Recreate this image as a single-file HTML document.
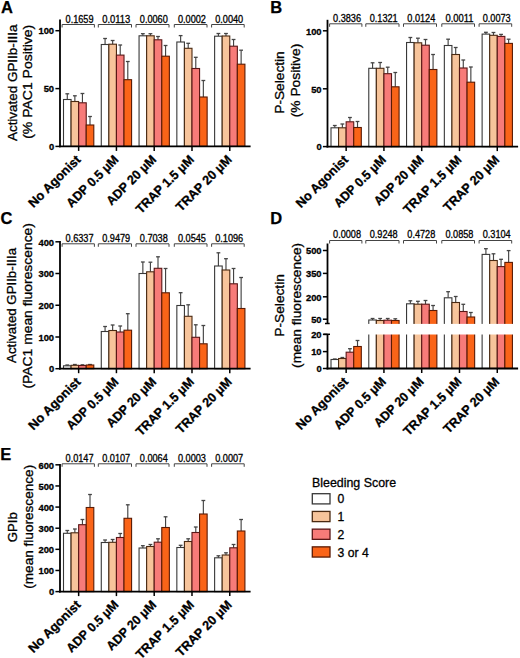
<!DOCTYPE html>
<html><head><meta charset="utf-8"><title>Figure</title>
<style>
html,body{margin:0;padding:0;background:#fff;}
body{width:520px;height:658px;overflow:hidden;}
svg{display:block;font-family:"Liberation Sans", sans-serif;}
</style></head>
<body>
<svg width="520" height="658" viewBox="0 0 520 658" font-family='"Liberation Sans", sans-serif'>
<rect width="520" height="658" fill="#fff"/>
<line x1="67.29" y1="99.5" x2="67.29" y2="93.8" stroke="#444" stroke-width="1.15"/>
<line x1="65.39" y1="93.8" x2="69.19" y2="93.8" stroke="#444" stroke-width="1.3"/>
<rect x="63.5" y="99.5" width="7.58" height="46.9" fill="#ffffff" stroke="#383838" stroke-width="1.1"/>
<line x1="74.86" y1="101.5" x2="74.86" y2="95.8" stroke="#444" stroke-width="1.15"/>
<line x1="72.96" y1="95.8" x2="76.76" y2="95.8" stroke="#444" stroke-width="1.3"/>
<rect x="71.08" y="101.5" width="7.58" height="44.9" fill="#f7c49b" stroke="#4a2a12" stroke-width="1.1"/>
<line x1="82.44" y1="102.8" x2="82.44" y2="93.5" stroke="#444" stroke-width="1.15"/>
<line x1="80.54" y1="93.5" x2="84.34" y2="93.5" stroke="#444" stroke-width="1.3"/>
<rect x="78.65" y="102.8" width="7.58" height="43.6" fill="#f77b79" stroke="#5a1616" stroke-width="1.1"/>
<line x1="90.01" y1="125" x2="90.01" y2="116.5" stroke="#444" stroke-width="1.15"/>
<line x1="88.11" y1="116.5" x2="91.91" y2="116.5" stroke="#444" stroke-width="1.3"/>
<rect x="86.22" y="125" width="7.58" height="21.4" fill="#fa6418" stroke="#5a1a04" stroke-width="1.1"/>
<line x1="105.07" y1="44.5" x2="105.07" y2="38.5" stroke="#444" stroke-width="1.15"/>
<line x1="103.17" y1="38.5" x2="106.97" y2="38.5" stroke="#444" stroke-width="1.3"/>
<rect x="101.28" y="44.5" width="7.58" height="101.9" fill="#ffffff" stroke="#383838" stroke-width="1.1"/>
<line x1="112.64" y1="44.2" x2="112.64" y2="40.5" stroke="#444" stroke-width="1.15"/>
<line x1="110.74" y1="40.5" x2="114.54" y2="40.5" stroke="#444" stroke-width="1.3"/>
<rect x="108.86" y="44.2" width="7.58" height="102.2" fill="#f7c49b" stroke="#4a2a12" stroke-width="1.1"/>
<line x1="120.22" y1="55.1" x2="120.22" y2="45" stroke="#444" stroke-width="1.15"/>
<line x1="118.32" y1="45" x2="122.12" y2="45" stroke="#444" stroke-width="1.3"/>
<rect x="116.43" y="55.1" width="7.58" height="91.3" fill="#f77b79" stroke="#5a1616" stroke-width="1.1"/>
<line x1="127.79" y1="79.7" x2="127.79" y2="61.5" stroke="#444" stroke-width="1.15"/>
<line x1="125.89" y1="61.5" x2="129.69" y2="61.5" stroke="#444" stroke-width="1.3"/>
<rect x="124" y="79.7" width="7.58" height="66.7" fill="#fa6418" stroke="#5a1a04" stroke-width="1.1"/>
<line x1="142.85" y1="35.8" x2="142.85" y2="33.7" stroke="#444" stroke-width="1.15"/>
<line x1="140.95" y1="33.7" x2="144.75" y2="33.7" stroke="#444" stroke-width="1.3"/>
<rect x="139.06" y="35.8" width="7.58" height="110.6" fill="#ffffff" stroke="#383838" stroke-width="1.1"/>
<line x1="150.42" y1="35.8" x2="150.42" y2="33.7" stroke="#444" stroke-width="1.15"/>
<line x1="148.52" y1="33.7" x2="152.32" y2="33.7" stroke="#444" stroke-width="1.3"/>
<rect x="146.63" y="35.8" width="7.58" height="110.6" fill="#f7c49b" stroke="#4a2a12" stroke-width="1.1"/>
<line x1="158" y1="39.8" x2="158" y2="36.5" stroke="#444" stroke-width="1.15"/>
<line x1="156.1" y1="36.5" x2="159.9" y2="36.5" stroke="#444" stroke-width="1.3"/>
<rect x="154.21" y="39.8" width="7.58" height="106.6" fill="#f77b79" stroke="#5a1616" stroke-width="1.1"/>
<line x1="165.57" y1="56.2" x2="165.57" y2="45.5" stroke="#444" stroke-width="1.15"/>
<line x1="163.67" y1="45.5" x2="167.47" y2="45.5" stroke="#444" stroke-width="1.3"/>
<rect x="161.78" y="56.2" width="7.58" height="90.2" fill="#fa6418" stroke="#5a1a04" stroke-width="1.1"/>
<line x1="180.63" y1="42" x2="180.63" y2="35.6" stroke="#444" stroke-width="1.15"/>
<line x1="178.73" y1="35.6" x2="182.53" y2="35.6" stroke="#444" stroke-width="1.3"/>
<rect x="176.84" y="42" width="7.58" height="104.4" fill="#ffffff" stroke="#383838" stroke-width="1.1"/>
<line x1="188.2" y1="48.3" x2="188.2" y2="43.3" stroke="#444" stroke-width="1.15"/>
<line x1="186.3" y1="43.3" x2="190.1" y2="43.3" stroke="#444" stroke-width="1.3"/>
<rect x="184.41" y="48.3" width="7.58" height="98.1" fill="#f7c49b" stroke="#4a2a12" stroke-width="1.1"/>
<line x1="195.78" y1="68.5" x2="195.78" y2="57.3" stroke="#444" stroke-width="1.15"/>
<line x1="193.88" y1="57.3" x2="197.68" y2="57.3" stroke="#444" stroke-width="1.3"/>
<rect x="191.99" y="68.5" width="7.58" height="77.9" fill="#f77b79" stroke="#5a1616" stroke-width="1.1"/>
<line x1="203.35" y1="97" x2="203.35" y2="80.5" stroke="#444" stroke-width="1.15"/>
<line x1="201.45" y1="80.5" x2="205.25" y2="80.5" stroke="#444" stroke-width="1.3"/>
<rect x="199.56" y="97" width="7.58" height="49.4" fill="#fa6418" stroke="#5a1a04" stroke-width="1.1"/>
<line x1="218.41" y1="36.2" x2="218.41" y2="33.5" stroke="#444" stroke-width="1.15"/>
<line x1="216.51" y1="33.5" x2="220.31" y2="33.5" stroke="#444" stroke-width="1.3"/>
<rect x="214.62" y="36.2" width="7.58" height="110.2" fill="#ffffff" stroke="#383838" stroke-width="1.1"/>
<line x1="225.98" y1="36" x2="225.98" y2="33.5" stroke="#444" stroke-width="1.15"/>
<line x1="224.08" y1="33.5" x2="227.88" y2="33.5" stroke="#444" stroke-width="1.3"/>
<rect x="222.19" y="36" width="7.58" height="110.4" fill="#f7c49b" stroke="#4a2a12" stroke-width="1.1"/>
<line x1="233.56" y1="46.2" x2="233.56" y2="39.5" stroke="#444" stroke-width="1.15"/>
<line x1="231.66" y1="39.5" x2="235.46" y2="39.5" stroke="#444" stroke-width="1.3"/>
<rect x="229.77" y="46.2" width="7.58" height="100.2" fill="#f77b79" stroke="#5a1616" stroke-width="1.1"/>
<line x1="241.13" y1="64.2" x2="241.13" y2="50.2" stroke="#444" stroke-width="1.15"/>
<line x1="239.23" y1="50.2" x2="243.03" y2="50.2" stroke="#444" stroke-width="1.3"/>
<rect x="237.34" y="64.2" width="7.58" height="82.2" fill="#fa6418" stroke="#5a1a04" stroke-width="1.1"/>
<line x1="59" y1="146.4" x2="250.6" y2="146.4" stroke="#000" stroke-width="1.8"/>
<line x1="78.65" y1="146.4" x2="78.65" y2="150.9" stroke="#000" stroke-width="1.5"/>
<text transform="translate(81.45,160.4) rotate(-45)" text-anchor="end" font-weight="bold" font-size="12.8" stroke="#000" stroke-width="0.3" textLength="67.8" lengthAdjust="spacingAndGlyphs">No Agonist</text>
<line x1="116.43" y1="146.4" x2="116.43" y2="150.9" stroke="#000" stroke-width="1.5"/>
<text transform="translate(119.23,160.4) rotate(-45)" text-anchor="end" font-weight="bold" font-size="12.8" stroke="#000" stroke-width="0.3" textLength="67.5" lengthAdjust="spacingAndGlyphs">ADP 0.5 μM</text>
<line x1="154.21" y1="146.4" x2="154.21" y2="150.9" stroke="#000" stroke-width="1.5"/>
<text transform="translate(157.01,160.4) rotate(-45)" text-anchor="end" font-weight="bold" font-size="12.8" stroke="#000" stroke-width="0.3" textLength="64.5" lengthAdjust="spacingAndGlyphs">ADP 20 μM</text>
<line x1="191.99" y1="146.4" x2="191.99" y2="150.9" stroke="#000" stroke-width="1.5"/>
<text transform="translate(194.79,160.4) rotate(-45)" text-anchor="end" font-weight="bold" font-size="12.8" stroke="#000" stroke-width="0.3" textLength="76.2" lengthAdjust="spacingAndGlyphs">TRAP 1.5 μM</text>
<line x1="229.77" y1="146.4" x2="229.77" y2="150.9" stroke="#000" stroke-width="1.5"/>
<text transform="translate(232.57,160.4) rotate(-45)" text-anchor="end" font-weight="bold" font-size="12.8" stroke="#000" stroke-width="0.3" textLength="72.9" lengthAdjust="spacingAndGlyphs">TRAP 20 μM</text>
<line x1="60" y1="19.5" x2="60" y2="147.3" stroke="#000" stroke-width="1.8"/>
<line x1="55.4" y1="30.7" x2="60" y2="30.7" stroke="#000" stroke-width="1.5"/>
<text x="54.1" y="34.4" text-anchor="end" font-weight="bold" font-size="9.4" stroke="#000" stroke-width="0.3">100</text>
<line x1="55.4" y1="88.6" x2="60" y2="88.6" stroke="#000" stroke-width="1.5"/>
<text x="54.1" y="92.3" text-anchor="end" font-weight="bold" font-size="9.4" stroke="#000" stroke-width="0.3">50</text>
<line x1="55.4" y1="146.4" x2="60" y2="146.4" stroke="#000" stroke-width="1.5"/>
<text x="54.1" y="150.1" text-anchor="end" font-weight="bold" font-size="9.4" stroke="#000" stroke-width="0.3">0</text>
<path d="M62.1,27.5 L62.1,24.5 L94.4,24.5 L94.4,27.5" fill="none" stroke="#444" stroke-width="1"/>
<text x="65.55" y="22.5" font-size="10.0" stroke="#000" stroke-width="0.3" textLength="28" lengthAdjust="spacingAndGlyphs">0.1659</text>
<path d="M98.3,27.5 L98.3,24.5 L131.5,24.5 L131.5,27.5" fill="none" stroke="#444" stroke-width="1"/>
<text x="102.2" y="22.5" font-size="10.0" stroke="#000" stroke-width="0.3" textLength="28" lengthAdjust="spacingAndGlyphs">0.0113</text>
<path d="M136,27.5 L136,24.5 L169,24.5 L169,27.5" fill="none" stroke="#444" stroke-width="1"/>
<text x="139.8" y="22.5" font-size="10.0" stroke="#000" stroke-width="0.3" textLength="28" lengthAdjust="spacingAndGlyphs">0.0060</text>
<path d="M174.3,27.5 L174.3,24.5 L207,24.5 L207,27.5" fill="none" stroke="#444" stroke-width="1"/>
<text x="177.95" y="22.5" font-size="10.0" stroke="#000" stroke-width="0.3" textLength="28" lengthAdjust="spacingAndGlyphs">0.0002</text>
<path d="M211.6,27.5 L211.6,24.5 L244.2,24.5 L244.2,27.5" fill="none" stroke="#444" stroke-width="1"/>
<text x="215.2" y="22.5" font-size="10.0" stroke="#000" stroke-width="0.3" textLength="28" lengthAdjust="spacingAndGlyphs">0.0040</text>
<text x="1" y="13.2" font-weight="bold" font-size="16.5" stroke="#000" stroke-width="0.25">A</text>
<text transform="translate(16.7,82.8) rotate(-90)" text-anchor="middle" font-size="13.5" stroke="#000" stroke-width="0.3" textLength="116.5" lengthAdjust="spacingAndGlyphs">Activated GPIIb-IIIa</text>
<text transform="translate(32.2,81.8) rotate(-90)" text-anchor="middle" font-size="13.5" stroke="#000" stroke-width="0.3" textLength="114" lengthAdjust="spacingAndGlyphs">(% PAC1 Positive)</text>
<line x1="334.79" y1="127.8" x2="334.79" y2="125.5" stroke="#444" stroke-width="1.15"/>
<line x1="332.89" y1="125.5" x2="336.69" y2="125.5" stroke="#444" stroke-width="1.3"/>
<rect x="331" y="127.8" width="7.58" height="18.8" fill="#ffffff" stroke="#383838" stroke-width="1.1"/>
<line x1="342.36" y1="127.8" x2="342.36" y2="124" stroke="#444" stroke-width="1.15"/>
<line x1="340.46" y1="124" x2="344.26" y2="124" stroke="#444" stroke-width="1.3"/>
<rect x="338.57" y="127.8" width="7.58" height="18.8" fill="#f7c49b" stroke="#4a2a12" stroke-width="1.1"/>
<line x1="349.94" y1="121.8" x2="349.94" y2="117.5" stroke="#444" stroke-width="1.15"/>
<line x1="348.04" y1="117.5" x2="351.84" y2="117.5" stroke="#444" stroke-width="1.3"/>
<rect x="346.15" y="121.8" width="7.58" height="24.8" fill="#f77b79" stroke="#5a1616" stroke-width="1.1"/>
<line x1="357.51" y1="127.5" x2="357.51" y2="121.5" stroke="#444" stroke-width="1.15"/>
<line x1="355.61" y1="121.5" x2="359.41" y2="121.5" stroke="#444" stroke-width="1.3"/>
<rect x="353.73" y="127.5" width="7.58" height="19.1" fill="#fa6418" stroke="#5a1a04" stroke-width="1.1"/>
<line x1="372.57" y1="68.3" x2="372.57" y2="62.8" stroke="#444" stroke-width="1.15"/>
<line x1="370.67" y1="62.8" x2="374.47" y2="62.8" stroke="#444" stroke-width="1.3"/>
<rect x="368.78" y="68.3" width="7.58" height="78.3" fill="#ffffff" stroke="#383838" stroke-width="1.1"/>
<line x1="380.14" y1="68.3" x2="380.14" y2="62.5" stroke="#444" stroke-width="1.15"/>
<line x1="378.24" y1="62.5" x2="382.04" y2="62.5" stroke="#444" stroke-width="1.3"/>
<rect x="376.35" y="68.3" width="7.58" height="78.3" fill="#f7c49b" stroke="#4a2a12" stroke-width="1.1"/>
<line x1="387.72" y1="73.7" x2="387.72" y2="67.2" stroke="#444" stroke-width="1.15"/>
<line x1="385.82" y1="67.2" x2="389.62" y2="67.2" stroke="#444" stroke-width="1.3"/>
<rect x="383.93" y="73.7" width="7.58" height="72.9" fill="#f77b79" stroke="#5a1616" stroke-width="1.1"/>
<line x1="395.29" y1="86.8" x2="395.29" y2="72.5" stroke="#444" stroke-width="1.15"/>
<line x1="393.39" y1="72.5" x2="397.19" y2="72.5" stroke="#444" stroke-width="1.3"/>
<rect x="391.5" y="86.8" width="7.58" height="59.8" fill="#fa6418" stroke="#5a1a04" stroke-width="1.1"/>
<line x1="410.35" y1="42.5" x2="410.35" y2="37.5" stroke="#444" stroke-width="1.15"/>
<line x1="408.45" y1="37.5" x2="412.25" y2="37.5" stroke="#444" stroke-width="1.3"/>
<rect x="406.56" y="42.5" width="7.58" height="104.1" fill="#ffffff" stroke="#383838" stroke-width="1.1"/>
<line x1="417.92" y1="42.8" x2="417.92" y2="38.2" stroke="#444" stroke-width="1.15"/>
<line x1="416.02" y1="38.2" x2="419.82" y2="38.2" stroke="#444" stroke-width="1.3"/>
<rect x="414.13" y="42.8" width="7.58" height="103.8" fill="#f7c49b" stroke="#4a2a12" stroke-width="1.1"/>
<line x1="425.5" y1="45.2" x2="425.5" y2="39.5" stroke="#444" stroke-width="1.15"/>
<line x1="423.6" y1="39.5" x2="427.4" y2="39.5" stroke="#444" stroke-width="1.3"/>
<rect x="421.71" y="45.2" width="7.58" height="101.4" fill="#f77b79" stroke="#5a1616" stroke-width="1.1"/>
<line x1="433.07" y1="69.5" x2="433.07" y2="54.5" stroke="#444" stroke-width="1.15"/>
<line x1="431.17" y1="54.5" x2="434.97" y2="54.5" stroke="#444" stroke-width="1.3"/>
<rect x="429.29" y="69.5" width="7.58" height="77.1" fill="#fa6418" stroke="#5a1a04" stroke-width="1.1"/>
<line x1="448.13" y1="45.5" x2="448.13" y2="39.2" stroke="#444" stroke-width="1.15"/>
<line x1="446.23" y1="39.2" x2="450.03" y2="39.2" stroke="#444" stroke-width="1.3"/>
<rect x="444.34" y="45.5" width="7.58" height="101.1" fill="#ffffff" stroke="#383838" stroke-width="1.1"/>
<line x1="455.7" y1="54.5" x2="455.7" y2="47.5" stroke="#444" stroke-width="1.15"/>
<line x1="453.8" y1="47.5" x2="457.6" y2="47.5" stroke="#444" stroke-width="1.3"/>
<rect x="451.92" y="54.5" width="7.58" height="92.1" fill="#f7c49b" stroke="#4a2a12" stroke-width="1.1"/>
<line x1="463.28" y1="68" x2="463.28" y2="60" stroke="#444" stroke-width="1.15"/>
<line x1="461.38" y1="60" x2="465.18" y2="60" stroke="#444" stroke-width="1.3"/>
<rect x="459.49" y="68" width="7.58" height="78.6" fill="#f77b79" stroke="#5a1616" stroke-width="1.1"/>
<line x1="470.85" y1="82.2" x2="470.85" y2="67" stroke="#444" stroke-width="1.15"/>
<line x1="468.95" y1="67" x2="472.75" y2="67" stroke="#444" stroke-width="1.3"/>
<rect x="467.07" y="82.2" width="7.58" height="64.4" fill="#fa6418" stroke="#5a1a04" stroke-width="1.1"/>
<line x1="485.91" y1="34.1" x2="485.91" y2="32.3" stroke="#444" stroke-width="1.15"/>
<line x1="484.01" y1="32.3" x2="487.81" y2="32.3" stroke="#444" stroke-width="1.3"/>
<rect x="482.12" y="34.1" width="7.58" height="112.5" fill="#ffffff" stroke="#383838" stroke-width="1.1"/>
<line x1="493.48" y1="35.3" x2="493.48" y2="32.5" stroke="#444" stroke-width="1.15"/>
<line x1="491.58" y1="32.5" x2="495.38" y2="32.5" stroke="#444" stroke-width="1.3"/>
<rect x="489.69" y="35.3" width="7.58" height="111.3" fill="#f7c49b" stroke="#4a2a12" stroke-width="1.1"/>
<line x1="501.06" y1="36.4" x2="501.06" y2="34.4" stroke="#444" stroke-width="1.15"/>
<line x1="499.16" y1="34.4" x2="502.96" y2="34.4" stroke="#444" stroke-width="1.3"/>
<rect x="497.27" y="36.4" width="7.58" height="110.2" fill="#f77b79" stroke="#5a1616" stroke-width="1.1"/>
<line x1="508.63" y1="43.4" x2="508.63" y2="39.2" stroke="#444" stroke-width="1.15"/>
<line x1="506.73" y1="39.2" x2="510.53" y2="39.2" stroke="#444" stroke-width="1.3"/>
<rect x="504.85" y="43.4" width="7.58" height="103.2" fill="#fa6418" stroke="#5a1a04" stroke-width="1.1"/>
<line x1="326.5" y1="146.6" x2="518.1" y2="146.6" stroke="#000" stroke-width="1.8"/>
<line x1="346.15" y1="146.6" x2="346.15" y2="151.1" stroke="#000" stroke-width="1.5"/>
<text transform="translate(348.95,160.6) rotate(-45)" text-anchor="end" font-weight="bold" font-size="12.8" stroke="#000" stroke-width="0.3" textLength="67.8" lengthAdjust="spacingAndGlyphs">No Agonist</text>
<line x1="383.93" y1="146.6" x2="383.93" y2="151.1" stroke="#000" stroke-width="1.5"/>
<text transform="translate(386.73,160.6) rotate(-45)" text-anchor="end" font-weight="bold" font-size="12.8" stroke="#000" stroke-width="0.3" textLength="67.5" lengthAdjust="spacingAndGlyphs">ADP 0.5 μM</text>
<line x1="421.71" y1="146.6" x2="421.71" y2="151.1" stroke="#000" stroke-width="1.5"/>
<text transform="translate(424.51,160.6) rotate(-45)" text-anchor="end" font-weight="bold" font-size="12.8" stroke="#000" stroke-width="0.3" textLength="64.5" lengthAdjust="spacingAndGlyphs">ADP 20 μM</text>
<line x1="459.49" y1="146.6" x2="459.49" y2="151.1" stroke="#000" stroke-width="1.5"/>
<text transform="translate(462.29,160.6) rotate(-45)" text-anchor="end" font-weight="bold" font-size="12.8" stroke="#000" stroke-width="0.3" textLength="76.2" lengthAdjust="spacingAndGlyphs">TRAP 1.5 μM</text>
<line x1="497.27" y1="146.6" x2="497.27" y2="151.1" stroke="#000" stroke-width="1.5"/>
<text transform="translate(500.07,160.6) rotate(-45)" text-anchor="end" font-weight="bold" font-size="12.8" stroke="#000" stroke-width="0.3" textLength="72.9" lengthAdjust="spacingAndGlyphs">TRAP 20 μM</text>
<line x1="327.5" y1="19.8" x2="327.5" y2="147.5" stroke="#000" stroke-width="1.8"/>
<line x1="322.9" y1="30.8" x2="327.5" y2="30.8" stroke="#000" stroke-width="1.5"/>
<text x="321.6" y="34.5" text-anchor="end" font-weight="bold" font-size="9.4" stroke="#000" stroke-width="0.3">100</text>
<line x1="322.9" y1="88.8" x2="327.5" y2="88.8" stroke="#000" stroke-width="1.5"/>
<text x="321.6" y="92.5" text-anchor="end" font-weight="bold" font-size="9.4" stroke="#000" stroke-width="0.3">50</text>
<line x1="322.9" y1="146.6" x2="327.5" y2="146.6" stroke="#000" stroke-width="1.5"/>
<text x="321.6" y="150.3" text-anchor="end" font-weight="bold" font-size="9.4" stroke="#000" stroke-width="0.3">0</text>
<path d="M329.6,26.8 L329.6,23.8 L361.9,23.8 L361.9,26.8" fill="none" stroke="#444" stroke-width="1"/>
<text x="333.05" y="21.6" font-size="10.0" stroke="#000" stroke-width="0.3" textLength="28" lengthAdjust="spacingAndGlyphs">0.3836</text>
<path d="M365.8,26.8 L365.8,23.8 L399,23.8 L399,26.8" fill="none" stroke="#444" stroke-width="1"/>
<text x="369.7" y="21.6" font-size="10.0" stroke="#000" stroke-width="0.3" textLength="28" lengthAdjust="spacingAndGlyphs">0.1321</text>
<path d="M403.5,26.8 L403.5,23.8 L436.5,23.8 L436.5,26.8" fill="none" stroke="#444" stroke-width="1"/>
<text x="407.3" y="21.6" font-size="10.0" stroke="#000" stroke-width="0.3" textLength="28" lengthAdjust="spacingAndGlyphs">0.0124</text>
<path d="M441.8,26.8 L441.8,23.8 L474.5,23.8 L474.5,26.8" fill="none" stroke="#444" stroke-width="1"/>
<text x="445.45" y="21.6" font-size="10.0" stroke="#000" stroke-width="0.3" textLength="28" lengthAdjust="spacingAndGlyphs">0.0011</text>
<path d="M479.1,26.8 L479.1,23.8 L511.7,23.8 L511.7,26.8" fill="none" stroke="#444" stroke-width="1"/>
<text x="482.7" y="21.6" font-size="10.0" stroke="#000" stroke-width="0.3" textLength="28" lengthAdjust="spacingAndGlyphs">0.0073</text>
<text x="270.3" y="13.3" font-weight="bold" font-size="16.5" stroke="#000" stroke-width="0.25">B</text>
<text transform="translate(284.2,82.5) rotate(-90)" text-anchor="middle" font-size="13.5" stroke="#000" stroke-width="0.3" textLength="62.5" lengthAdjust="spacingAndGlyphs">P-Selectin</text>
<text transform="translate(300.3,80.5) rotate(-90)" text-anchor="middle" font-size="13.5" stroke="#000" stroke-width="0.3" textLength="73.5" lengthAdjust="spacingAndGlyphs">(% Positive)</text>
<line x1="67.29" y1="365.8" x2="67.29" y2="365" stroke="#444" stroke-width="1.15"/>
<line x1="65.39" y1="365" x2="69.19" y2="365" stroke="#444" stroke-width="1.3"/>
<rect x="63.5" y="365.8" width="7.58" height="2.9" fill="#ffffff" stroke="#383838" stroke-width="1.1"/>
<line x1="74.86" y1="365.3" x2="74.86" y2="364.5" stroke="#444" stroke-width="1.15"/>
<line x1="72.96" y1="364.5" x2="76.76" y2="364.5" stroke="#444" stroke-width="1.3"/>
<rect x="71.08" y="365.3" width="7.58" height="3.4" fill="#f7c49b" stroke="#4a2a12" stroke-width="1.1"/>
<line x1="82.44" y1="365.5" x2="82.44" y2="364.8" stroke="#444" stroke-width="1.15"/>
<line x1="80.54" y1="364.8" x2="84.34" y2="364.8" stroke="#444" stroke-width="1.3"/>
<rect x="78.65" y="365.5" width="7.58" height="3.2" fill="#f77b79" stroke="#5a1616" stroke-width="1.1"/>
<line x1="90.01" y1="365" x2="90.01" y2="364.5" stroke="#444" stroke-width="1.15"/>
<line x1="88.11" y1="364.5" x2="91.91" y2="364.5" stroke="#444" stroke-width="1.3"/>
<rect x="86.22" y="365" width="7.58" height="3.7" fill="#fa6418" stroke="#5a1a04" stroke-width="1.1"/>
<line x1="105.07" y1="331.5" x2="105.07" y2="326.5" stroke="#444" stroke-width="1.15"/>
<line x1="103.17" y1="326.5" x2="106.97" y2="326.5" stroke="#444" stroke-width="1.3"/>
<rect x="101.28" y="331.5" width="7.58" height="37.2" fill="#ffffff" stroke="#383838" stroke-width="1.1"/>
<line x1="112.64" y1="330.5" x2="112.64" y2="325" stroke="#444" stroke-width="1.15"/>
<line x1="110.74" y1="325" x2="114.54" y2="325" stroke="#444" stroke-width="1.3"/>
<rect x="108.86" y="330.5" width="7.58" height="38.2" fill="#f7c49b" stroke="#4a2a12" stroke-width="1.1"/>
<line x1="120.22" y1="332" x2="120.22" y2="326" stroke="#444" stroke-width="1.15"/>
<line x1="118.32" y1="326" x2="122.12" y2="326" stroke="#444" stroke-width="1.3"/>
<rect x="116.43" y="332" width="7.58" height="36.7" fill="#f77b79" stroke="#5a1616" stroke-width="1.1"/>
<line x1="127.79" y1="330.2" x2="127.79" y2="313.7" stroke="#444" stroke-width="1.15"/>
<line x1="125.89" y1="313.7" x2="129.69" y2="313.7" stroke="#444" stroke-width="1.3"/>
<rect x="124" y="330.2" width="7.58" height="38.5" fill="#fa6418" stroke="#5a1a04" stroke-width="1.1"/>
<line x1="142.85" y1="273.5" x2="142.85" y2="262" stroke="#444" stroke-width="1.15"/>
<line x1="140.95" y1="262" x2="144.75" y2="262" stroke="#444" stroke-width="1.3"/>
<rect x="139.06" y="273.5" width="7.58" height="95.2" fill="#ffffff" stroke="#383838" stroke-width="1.1"/>
<line x1="150.42" y1="271.8" x2="150.42" y2="262.2" stroke="#444" stroke-width="1.15"/>
<line x1="148.52" y1="262.2" x2="152.32" y2="262.2" stroke="#444" stroke-width="1.3"/>
<rect x="146.63" y="271.8" width="7.58" height="96.9" fill="#f7c49b" stroke="#4a2a12" stroke-width="1.1"/>
<line x1="158" y1="268.3" x2="158" y2="256.8" stroke="#444" stroke-width="1.15"/>
<line x1="156.1" y1="256.8" x2="159.9" y2="256.8" stroke="#444" stroke-width="1.3"/>
<rect x="154.21" y="268.3" width="7.58" height="100.4" fill="#f77b79" stroke="#5a1616" stroke-width="1.1"/>
<line x1="165.57" y1="292.8" x2="165.57" y2="268.5" stroke="#444" stroke-width="1.15"/>
<line x1="163.67" y1="268.5" x2="167.47" y2="268.5" stroke="#444" stroke-width="1.3"/>
<rect x="161.78" y="292.8" width="7.58" height="75.9" fill="#fa6418" stroke="#5a1a04" stroke-width="1.1"/>
<line x1="180.63" y1="305.5" x2="180.63" y2="292.7" stroke="#444" stroke-width="1.15"/>
<line x1="178.73" y1="292.7" x2="182.53" y2="292.7" stroke="#444" stroke-width="1.3"/>
<rect x="176.84" y="305.5" width="7.58" height="63.2" fill="#ffffff" stroke="#383838" stroke-width="1.1"/>
<line x1="188.2" y1="316.3" x2="188.2" y2="304.8" stroke="#444" stroke-width="1.15"/>
<line x1="186.3" y1="304.8" x2="190.1" y2="304.8" stroke="#444" stroke-width="1.3"/>
<rect x="184.41" y="316.3" width="7.58" height="52.4" fill="#f7c49b" stroke="#4a2a12" stroke-width="1.1"/>
<line x1="195.78" y1="337.3" x2="195.78" y2="324.8" stroke="#444" stroke-width="1.15"/>
<line x1="193.88" y1="324.8" x2="197.68" y2="324.8" stroke="#444" stroke-width="1.3"/>
<rect x="191.99" y="337.3" width="7.58" height="31.4" fill="#f77b79" stroke="#5a1616" stroke-width="1.1"/>
<line x1="203.35" y1="343.8" x2="203.35" y2="325.5" stroke="#444" stroke-width="1.15"/>
<line x1="201.45" y1="325.5" x2="205.25" y2="325.5" stroke="#444" stroke-width="1.3"/>
<rect x="199.56" y="343.8" width="7.58" height="24.9" fill="#fa6418" stroke="#5a1a04" stroke-width="1.1"/>
<line x1="218.41" y1="266" x2="218.41" y2="252.8" stroke="#444" stroke-width="1.15"/>
<line x1="216.51" y1="252.8" x2="220.31" y2="252.8" stroke="#444" stroke-width="1.3"/>
<rect x="214.62" y="266" width="7.58" height="102.7" fill="#ffffff" stroke="#383838" stroke-width="1.1"/>
<line x1="225.98" y1="270" x2="225.98" y2="258.7" stroke="#444" stroke-width="1.15"/>
<line x1="224.08" y1="258.7" x2="227.88" y2="258.7" stroke="#444" stroke-width="1.3"/>
<rect x="222.19" y="270" width="7.58" height="98.7" fill="#f7c49b" stroke="#4a2a12" stroke-width="1.1"/>
<line x1="233.56" y1="283.8" x2="233.56" y2="268.5" stroke="#444" stroke-width="1.15"/>
<line x1="231.66" y1="268.5" x2="235.46" y2="268.5" stroke="#444" stroke-width="1.3"/>
<rect x="229.77" y="283.8" width="7.58" height="84.9" fill="#f77b79" stroke="#5a1616" stroke-width="1.1"/>
<line x1="241.13" y1="308.5" x2="241.13" y2="277.5" stroke="#444" stroke-width="1.15"/>
<line x1="239.23" y1="277.5" x2="243.03" y2="277.5" stroke="#444" stroke-width="1.3"/>
<rect x="237.34" y="308.5" width="7.58" height="60.2" fill="#fa6418" stroke="#5a1a04" stroke-width="1.1"/>
<line x1="59" y1="368.7" x2="250.6" y2="368.7" stroke="#000" stroke-width="1.8"/>
<line x1="78.65" y1="368.7" x2="78.65" y2="373.2" stroke="#000" stroke-width="1.5"/>
<text transform="translate(81.45,382.7) rotate(-45)" text-anchor="end" font-weight="bold" font-size="12.8" stroke="#000" stroke-width="0.3" textLength="67.8" lengthAdjust="spacingAndGlyphs">No Agonist</text>
<line x1="116.43" y1="368.7" x2="116.43" y2="373.2" stroke="#000" stroke-width="1.5"/>
<text transform="translate(119.23,382.7) rotate(-45)" text-anchor="end" font-weight="bold" font-size="12.8" stroke="#000" stroke-width="0.3" textLength="67.5" lengthAdjust="spacingAndGlyphs">ADP 0.5 μM</text>
<line x1="154.21" y1="368.7" x2="154.21" y2="373.2" stroke="#000" stroke-width="1.5"/>
<text transform="translate(157.01,382.7) rotate(-45)" text-anchor="end" font-weight="bold" font-size="12.8" stroke="#000" stroke-width="0.3" textLength="64.5" lengthAdjust="spacingAndGlyphs">ADP 20 μM</text>
<line x1="191.99" y1="368.7" x2="191.99" y2="373.2" stroke="#000" stroke-width="1.5"/>
<text transform="translate(194.79,382.7) rotate(-45)" text-anchor="end" font-weight="bold" font-size="12.8" stroke="#000" stroke-width="0.3" textLength="76.2" lengthAdjust="spacingAndGlyphs">TRAP 1.5 μM</text>
<line x1="229.77" y1="368.7" x2="229.77" y2="373.2" stroke="#000" stroke-width="1.5"/>
<text transform="translate(232.57,382.7) rotate(-45)" text-anchor="end" font-weight="bold" font-size="12.8" stroke="#000" stroke-width="0.3" textLength="72.9" lengthAdjust="spacingAndGlyphs">TRAP 20 μM</text>
<line x1="60" y1="241" x2="60" y2="369.6" stroke="#000" stroke-width="1.8"/>
<line x1="55.4" y1="241.8" x2="60" y2="241.8" stroke="#000" stroke-width="1.5"/>
<text x="54.1" y="245.5" text-anchor="end" font-weight="bold" font-size="9.4" stroke="#000" stroke-width="0.3">400</text>
<line x1="55.4" y1="273.5" x2="60" y2="273.5" stroke="#000" stroke-width="1.5"/>
<text x="54.1" y="277.2" text-anchor="end" font-weight="bold" font-size="9.4" stroke="#000" stroke-width="0.3">300</text>
<line x1="55.4" y1="305.25" x2="60" y2="305.25" stroke="#000" stroke-width="1.5"/>
<text x="54.1" y="308.95" text-anchor="end" font-weight="bold" font-size="9.4" stroke="#000" stroke-width="0.3">200</text>
<line x1="55.4" y1="337" x2="60" y2="337" stroke="#000" stroke-width="1.5"/>
<text x="54.1" y="340.7" text-anchor="end" font-weight="bold" font-size="9.4" stroke="#000" stroke-width="0.3">100</text>
<line x1="55.4" y1="368.7" x2="60" y2="368.7" stroke="#000" stroke-width="1.5"/>
<text x="54.1" y="372.4" text-anchor="end" font-weight="bold" font-size="9.4" stroke="#000" stroke-width="0.3">0</text>
<path d="M62.1,246.8 L62.1,243.8 L94.4,243.8 L94.4,246.8" fill="none" stroke="#444" stroke-width="1"/>
<text x="65.55" y="241.5" font-size="10.0" stroke="#000" stroke-width="0.3" textLength="28" lengthAdjust="spacingAndGlyphs">0.6337</text>
<path d="M98.3,246.8 L98.3,243.8 L131.5,243.8 L131.5,246.8" fill="none" stroke="#444" stroke-width="1"/>
<text x="102.2" y="241.5" font-size="10.0" stroke="#000" stroke-width="0.3" textLength="28" lengthAdjust="spacingAndGlyphs">0.9479</text>
<path d="M136,246.8 L136,243.8 L169,243.8 L169,246.8" fill="none" stroke="#444" stroke-width="1"/>
<text x="139.8" y="241.5" font-size="10.0" stroke="#000" stroke-width="0.3" textLength="28" lengthAdjust="spacingAndGlyphs">0.7038</text>
<path d="M174.3,246.8 L174.3,243.8 L207,243.8 L207,246.8" fill="none" stroke="#444" stroke-width="1"/>
<text x="177.95" y="241.5" font-size="10.0" stroke="#000" stroke-width="0.3" textLength="28" lengthAdjust="spacingAndGlyphs">0.0545</text>
<path d="M211.6,246.8 L211.6,243.8 L244.2,243.8 L244.2,246.8" fill="none" stroke="#444" stroke-width="1"/>
<text x="215.2" y="241.5" font-size="10.0" stroke="#000" stroke-width="0.3" textLength="28" lengthAdjust="spacingAndGlyphs">0.1096</text>
<text x="0.5" y="224.2" font-weight="bold" font-size="16.5" stroke="#000" stroke-width="0.25">C</text>
<text transform="translate(16.4,305.4) rotate(-90)" text-anchor="middle" font-size="13.5" stroke="#000" stroke-width="0.3" textLength="115" lengthAdjust="spacingAndGlyphs">Activated GPIIb-IIIa</text>
<text transform="translate(32.4,305.8) rotate(-90)" text-anchor="middle" font-size="13.5" stroke="#000" stroke-width="0.3" textLength="165.5" lengthAdjust="spacingAndGlyphs">(PAC1 mean fluorescence)</text>
<line x1="67.29" y1="533.3" x2="67.29" y2="530.5" stroke="#444" stroke-width="1.15"/>
<line x1="65.39" y1="530.5" x2="69.19" y2="530.5" stroke="#444" stroke-width="1.3"/>
<rect x="63.5" y="533.3" width="7.58" height="58.3" fill="#ffffff" stroke="#383838" stroke-width="1.1"/>
<line x1="74.86" y1="532.8" x2="74.86" y2="529" stroke="#444" stroke-width="1.15"/>
<line x1="72.96" y1="529" x2="76.76" y2="529" stroke="#444" stroke-width="1.3"/>
<rect x="71.08" y="532.8" width="7.58" height="58.8" fill="#f7c49b" stroke="#4a2a12" stroke-width="1.1"/>
<line x1="82.44" y1="524.7" x2="82.44" y2="519.5" stroke="#444" stroke-width="1.15"/>
<line x1="80.54" y1="519.5" x2="84.34" y2="519.5" stroke="#444" stroke-width="1.3"/>
<rect x="78.65" y="524.7" width="7.58" height="66.9" fill="#f77b79" stroke="#5a1616" stroke-width="1.1"/>
<line x1="90.01" y1="507.5" x2="90.01" y2="494.5" stroke="#444" stroke-width="1.15"/>
<line x1="88.11" y1="494.5" x2="91.91" y2="494.5" stroke="#444" stroke-width="1.3"/>
<rect x="86.22" y="507.5" width="7.58" height="84.1" fill="#fa6418" stroke="#5a1a04" stroke-width="1.1"/>
<line x1="105.07" y1="542.5" x2="105.07" y2="540" stroke="#444" stroke-width="1.15"/>
<line x1="103.17" y1="540" x2="106.97" y2="540" stroke="#444" stroke-width="1.3"/>
<rect x="101.28" y="542.5" width="7.58" height="49.1" fill="#ffffff" stroke="#383838" stroke-width="1.1"/>
<line x1="112.64" y1="542.3" x2="112.64" y2="539.5" stroke="#444" stroke-width="1.15"/>
<line x1="110.74" y1="539.5" x2="114.54" y2="539.5" stroke="#444" stroke-width="1.3"/>
<rect x="108.86" y="542.3" width="7.58" height="49.3" fill="#f7c49b" stroke="#4a2a12" stroke-width="1.1"/>
<line x1="120.22" y1="537.5" x2="120.22" y2="533.5" stroke="#444" stroke-width="1.15"/>
<line x1="118.32" y1="533.5" x2="122.12" y2="533.5" stroke="#444" stroke-width="1.3"/>
<rect x="116.43" y="537.5" width="7.58" height="54.1" fill="#f77b79" stroke="#5a1616" stroke-width="1.1"/>
<line x1="127.79" y1="518.3" x2="127.79" y2="504.8" stroke="#444" stroke-width="1.15"/>
<line x1="125.89" y1="504.8" x2="129.69" y2="504.8" stroke="#444" stroke-width="1.3"/>
<rect x="124" y="518.3" width="7.58" height="73.3" fill="#fa6418" stroke="#5a1a04" stroke-width="1.1"/>
<line x1="142.85" y1="548" x2="142.85" y2="545.7" stroke="#444" stroke-width="1.15"/>
<line x1="140.95" y1="545.7" x2="144.75" y2="545.7" stroke="#444" stroke-width="1.3"/>
<rect x="139.06" y="548" width="7.58" height="43.6" fill="#ffffff" stroke="#383838" stroke-width="1.1"/>
<line x1="150.42" y1="546.5" x2="150.42" y2="544.5" stroke="#444" stroke-width="1.15"/>
<line x1="148.52" y1="544.5" x2="152.32" y2="544.5" stroke="#444" stroke-width="1.3"/>
<rect x="146.63" y="546.5" width="7.58" height="45.1" fill="#f7c49b" stroke="#4a2a12" stroke-width="1.1"/>
<line x1="158" y1="542.2" x2="158" y2="538.8" stroke="#444" stroke-width="1.15"/>
<line x1="156.1" y1="538.8" x2="159.9" y2="538.8" stroke="#444" stroke-width="1.3"/>
<rect x="154.21" y="542.2" width="7.58" height="49.4" fill="#f77b79" stroke="#5a1616" stroke-width="1.1"/>
<line x1="165.57" y1="527.5" x2="165.57" y2="516.8" stroke="#444" stroke-width="1.15"/>
<line x1="163.67" y1="516.8" x2="167.47" y2="516.8" stroke="#444" stroke-width="1.3"/>
<rect x="161.78" y="527.5" width="7.58" height="64.1" fill="#fa6418" stroke="#5a1a04" stroke-width="1.1"/>
<line x1="180.63" y1="547.5" x2="180.63" y2="545.3" stroke="#444" stroke-width="1.15"/>
<line x1="178.73" y1="545.3" x2="182.53" y2="545.3" stroke="#444" stroke-width="1.3"/>
<rect x="176.84" y="547.5" width="7.58" height="44.1" fill="#ffffff" stroke="#383838" stroke-width="1.1"/>
<line x1="188.2" y1="541.5" x2="188.2" y2="538.8" stroke="#444" stroke-width="1.15"/>
<line x1="186.3" y1="538.8" x2="190.1" y2="538.8" stroke="#444" stroke-width="1.3"/>
<rect x="184.41" y="541.5" width="7.58" height="50.1" fill="#f7c49b" stroke="#4a2a12" stroke-width="1.1"/>
<line x1="195.78" y1="532.5" x2="195.78" y2="527" stroke="#444" stroke-width="1.15"/>
<line x1="193.88" y1="527" x2="197.68" y2="527" stroke="#444" stroke-width="1.3"/>
<rect x="191.99" y="532.5" width="7.58" height="59.1" fill="#f77b79" stroke="#5a1616" stroke-width="1.1"/>
<line x1="203.35" y1="514" x2="203.35" y2="500.5" stroke="#444" stroke-width="1.15"/>
<line x1="201.45" y1="500.5" x2="205.25" y2="500.5" stroke="#444" stroke-width="1.3"/>
<rect x="199.56" y="514" width="7.58" height="77.6" fill="#fa6418" stroke="#5a1a04" stroke-width="1.1"/>
<line x1="218.41" y1="557.8" x2="218.41" y2="555.8" stroke="#444" stroke-width="1.15"/>
<line x1="216.51" y1="555.8" x2="220.31" y2="555.8" stroke="#444" stroke-width="1.3"/>
<rect x="214.62" y="557.8" width="7.58" height="33.8" fill="#ffffff" stroke="#383838" stroke-width="1.1"/>
<line x1="225.98" y1="555" x2="225.98" y2="552.8" stroke="#444" stroke-width="1.15"/>
<line x1="224.08" y1="552.8" x2="227.88" y2="552.8" stroke="#444" stroke-width="1.3"/>
<rect x="222.19" y="555" width="7.58" height="36.6" fill="#f7c49b" stroke="#4a2a12" stroke-width="1.1"/>
<line x1="233.56" y1="547.8" x2="233.56" y2="544.5" stroke="#444" stroke-width="1.15"/>
<line x1="231.66" y1="544.5" x2="235.46" y2="544.5" stroke="#444" stroke-width="1.3"/>
<rect x="229.77" y="547.8" width="7.58" height="43.8" fill="#f77b79" stroke="#5a1616" stroke-width="1.1"/>
<line x1="241.13" y1="531" x2="241.13" y2="519.5" stroke="#444" stroke-width="1.15"/>
<line x1="239.23" y1="519.5" x2="243.03" y2="519.5" stroke="#444" stroke-width="1.3"/>
<rect x="237.34" y="531" width="7.58" height="60.6" fill="#fa6418" stroke="#5a1a04" stroke-width="1.1"/>
<line x1="59" y1="591.6" x2="250.6" y2="591.6" stroke="#000" stroke-width="1.8"/>
<line x1="78.65" y1="591.6" x2="78.65" y2="596.1" stroke="#000" stroke-width="1.5"/>
<text transform="translate(81.45,605.6) rotate(-45)" text-anchor="end" font-weight="bold" font-size="12.8" stroke="#000" stroke-width="0.3" textLength="67.8" lengthAdjust="spacingAndGlyphs">No Agonist</text>
<line x1="116.43" y1="591.6" x2="116.43" y2="596.1" stroke="#000" stroke-width="1.5"/>
<text transform="translate(119.23,605.6) rotate(-45)" text-anchor="end" font-weight="bold" font-size="12.8" stroke="#000" stroke-width="0.3" textLength="67.5" lengthAdjust="spacingAndGlyphs">ADP 0.5 μM</text>
<line x1="154.21" y1="591.6" x2="154.21" y2="596.1" stroke="#000" stroke-width="1.5"/>
<text transform="translate(157.01,605.6) rotate(-45)" text-anchor="end" font-weight="bold" font-size="12.8" stroke="#000" stroke-width="0.3" textLength="64.5" lengthAdjust="spacingAndGlyphs">ADP 20 μM</text>
<line x1="191.99" y1="591.6" x2="191.99" y2="596.1" stroke="#000" stroke-width="1.5"/>
<text transform="translate(194.79,605.6) rotate(-45)" text-anchor="end" font-weight="bold" font-size="12.8" stroke="#000" stroke-width="0.3" textLength="76.2" lengthAdjust="spacingAndGlyphs">TRAP 1.5 μM</text>
<line x1="229.77" y1="591.6" x2="229.77" y2="596.1" stroke="#000" stroke-width="1.5"/>
<text transform="translate(232.57,605.6) rotate(-45)" text-anchor="end" font-weight="bold" font-size="12.8" stroke="#000" stroke-width="0.3" textLength="72.9" lengthAdjust="spacingAndGlyphs">TRAP 20 μM</text>
<line x1="60" y1="464" x2="60" y2="592.5" stroke="#000" stroke-width="1.8"/>
<line x1="55.4" y1="591.6" x2="60" y2="591.6" stroke="#000" stroke-width="1.5"/>
<text x="54.1" y="595.3" text-anchor="end" font-weight="bold" font-size="9.4" stroke="#000" stroke-width="0.3">0</text>
<line x1="55.4" y1="570.47" x2="60" y2="570.47" stroke="#000" stroke-width="1.5"/>
<text x="54.1" y="574.17" text-anchor="end" font-weight="bold" font-size="9.4" stroke="#000" stroke-width="0.3">100</text>
<line x1="55.4" y1="549.34" x2="60" y2="549.34" stroke="#000" stroke-width="1.5"/>
<text x="54.1" y="553.04" text-anchor="end" font-weight="bold" font-size="9.4" stroke="#000" stroke-width="0.3">200</text>
<line x1="55.4" y1="528.21" x2="60" y2="528.21" stroke="#000" stroke-width="1.5"/>
<text x="54.1" y="531.91" text-anchor="end" font-weight="bold" font-size="9.4" stroke="#000" stroke-width="0.3">300</text>
<line x1="55.4" y1="507.08" x2="60" y2="507.08" stroke="#000" stroke-width="1.5"/>
<text x="54.1" y="510.78" text-anchor="end" font-weight="bold" font-size="9.4" stroke="#000" stroke-width="0.3">400</text>
<line x1="55.4" y1="485.95" x2="60" y2="485.95" stroke="#000" stroke-width="1.5"/>
<text x="54.1" y="489.65" text-anchor="end" font-weight="bold" font-size="9.4" stroke="#000" stroke-width="0.3">500</text>
<line x1="55.4" y1="464.82" x2="60" y2="464.82" stroke="#000" stroke-width="1.5"/>
<text x="54.1" y="468.52" text-anchor="end" font-weight="bold" font-size="9.4" stroke="#000" stroke-width="0.3">600</text>
<path d="M62.1,466.8 L62.1,463.8 L94.4,463.8 L94.4,466.8" fill="none" stroke="#444" stroke-width="1"/>
<text x="65.55" y="461.9" font-size="10.0" stroke="#000" stroke-width="0.3" textLength="28" lengthAdjust="spacingAndGlyphs">0.0147</text>
<path d="M98.3,466.8 L98.3,463.8 L131.5,463.8 L131.5,466.8" fill="none" stroke="#444" stroke-width="1"/>
<text x="102.2" y="461.9" font-size="10.0" stroke="#000" stroke-width="0.3" textLength="28" lengthAdjust="spacingAndGlyphs">0.0107</text>
<path d="M136,466.8 L136,463.8 L169,463.8 L169,466.8" fill="none" stroke="#444" stroke-width="1"/>
<text x="139.8" y="461.9" font-size="10.0" stroke="#000" stroke-width="0.3" textLength="28" lengthAdjust="spacingAndGlyphs">0.0064</text>
<path d="M174.3,466.8 L174.3,463.8 L207,463.8 L207,466.8" fill="none" stroke="#444" stroke-width="1"/>
<text x="177.95" y="461.9" font-size="10.0" stroke="#000" stroke-width="0.3" textLength="28" lengthAdjust="spacingAndGlyphs">0.0003</text>
<path d="M211.6,466.8 L211.6,463.8 L244.2,463.8 L244.2,466.8" fill="none" stroke="#444" stroke-width="1"/>
<text x="215.2" y="461.9" font-size="10.0" stroke="#000" stroke-width="0.3" textLength="28" lengthAdjust="spacingAndGlyphs">0.0007</text>
<text x="0.2" y="460.2" font-weight="bold" font-size="16.5" stroke="#000" stroke-width="0.25">E</text>
<text transform="translate(16.7,527.2) rotate(-90)" text-anchor="middle" font-size="13.5" stroke="#000" stroke-width="0.3" textLength="30" lengthAdjust="spacingAndGlyphs">GPIb</text>
<text transform="translate(32.6,526.8) rotate(-90)" text-anchor="middle" font-size="13.5" stroke="#000" stroke-width="0.3" textLength="124" lengthAdjust="spacingAndGlyphs">(mean fluorescence)</text>
<line x1="334.79" y1="359.5" x2="334.79" y2="359" stroke="#444" stroke-width="1.15"/>
<line x1="332.89" y1="359" x2="336.69" y2="359" stroke="#444" stroke-width="1.3"/>
<rect x="331" y="359.5" width="7.58" height="9" fill="#ffffff" stroke="#383838" stroke-width="1.1"/>
<line x1="342.36" y1="358.5" x2="342.36" y2="357.5" stroke="#444" stroke-width="1.15"/>
<line x1="340.46" y1="357.5" x2="344.26" y2="357.5" stroke="#444" stroke-width="1.3"/>
<rect x="338.57" y="358.5" width="7.58" height="10" fill="#f7c49b" stroke="#4a2a12" stroke-width="1.1"/>
<line x1="349.94" y1="352.2" x2="349.94" y2="348.7" stroke="#444" stroke-width="1.15"/>
<line x1="348.04" y1="348.7" x2="351.84" y2="348.7" stroke="#444" stroke-width="1.3"/>
<rect x="346.15" y="352.2" width="7.58" height="16.3" fill="#f77b79" stroke="#5a1616" stroke-width="1.1"/>
<line x1="357.51" y1="346.5" x2="357.51" y2="340.5" stroke="#444" stroke-width="1.15"/>
<line x1="355.61" y1="340.5" x2="359.41" y2="340.5" stroke="#444" stroke-width="1.3"/>
<rect x="353.73" y="346.5" width="7.58" height="22" fill="#fa6418" stroke="#5a1a04" stroke-width="1.1"/>
<line x1="372.57" y1="320" x2="372.57" y2="318.5" stroke="#444" stroke-width="1.15"/>
<line x1="370.67" y1="318.5" x2="374.47" y2="318.5" stroke="#444" stroke-width="1.3"/>
<rect x="368.78" y="320" width="7.58" height="48.5" fill="#ffffff" stroke="#383838" stroke-width="1.1"/>
<line x1="380.14" y1="320.5" x2="380.14" y2="318.5" stroke="#444" stroke-width="1.15"/>
<line x1="378.24" y1="318.5" x2="382.04" y2="318.5" stroke="#444" stroke-width="1.3"/>
<rect x="376.35" y="320.5" width="7.58" height="48" fill="#f7c49b" stroke="#4a2a12" stroke-width="1.1"/>
<line x1="387.72" y1="320.2" x2="387.72" y2="318.5" stroke="#444" stroke-width="1.15"/>
<line x1="385.82" y1="318.5" x2="389.62" y2="318.5" stroke="#444" stroke-width="1.3"/>
<rect x="383.93" y="320.2" width="7.58" height="48.3" fill="#f77b79" stroke="#5a1616" stroke-width="1.1"/>
<line x1="395.29" y1="320.5" x2="395.29" y2="318.8" stroke="#444" stroke-width="1.15"/>
<line x1="393.39" y1="318.8" x2="397.19" y2="318.8" stroke="#444" stroke-width="1.3"/>
<rect x="391.5" y="320.5" width="7.58" height="48" fill="#fa6418" stroke="#5a1a04" stroke-width="1.1"/>
<line x1="410.35" y1="303.8" x2="410.35" y2="300.8" stroke="#444" stroke-width="1.15"/>
<line x1="408.45" y1="300.8" x2="412.25" y2="300.8" stroke="#444" stroke-width="1.3"/>
<rect x="406.56" y="303.8" width="7.58" height="64.7" fill="#ffffff" stroke="#383838" stroke-width="1.1"/>
<line x1="417.92" y1="304.2" x2="417.92" y2="301.3" stroke="#444" stroke-width="1.15"/>
<line x1="416.02" y1="301.3" x2="419.82" y2="301.3" stroke="#444" stroke-width="1.3"/>
<rect x="414.13" y="304.2" width="7.58" height="64.3" fill="#f7c49b" stroke="#4a2a12" stroke-width="1.1"/>
<line x1="425.5" y1="304.2" x2="425.5" y2="300.5" stroke="#444" stroke-width="1.15"/>
<line x1="423.6" y1="300.5" x2="427.4" y2="300.5" stroke="#444" stroke-width="1.3"/>
<rect x="421.71" y="304.2" width="7.58" height="64.3" fill="#f77b79" stroke="#5a1616" stroke-width="1.1"/>
<line x1="433.07" y1="310.5" x2="433.07" y2="305.5" stroke="#444" stroke-width="1.15"/>
<line x1="431.17" y1="305.5" x2="434.97" y2="305.5" stroke="#444" stroke-width="1.3"/>
<rect x="429.29" y="310.5" width="7.58" height="58" fill="#fa6418" stroke="#5a1a04" stroke-width="1.1"/>
<line x1="448.13" y1="297.8" x2="448.13" y2="291.7" stroke="#444" stroke-width="1.15"/>
<line x1="446.23" y1="291.7" x2="450.03" y2="291.7" stroke="#444" stroke-width="1.3"/>
<rect x="444.34" y="297.8" width="7.58" height="70.7" fill="#ffffff" stroke="#383838" stroke-width="1.1"/>
<line x1="455.7" y1="302.5" x2="455.7" y2="296.5" stroke="#444" stroke-width="1.15"/>
<line x1="453.8" y1="296.5" x2="457.6" y2="296.5" stroke="#444" stroke-width="1.3"/>
<rect x="451.92" y="302.5" width="7.58" height="66" fill="#f7c49b" stroke="#4a2a12" stroke-width="1.1"/>
<line x1="463.28" y1="311.5" x2="463.28" y2="304.3" stroke="#444" stroke-width="1.15"/>
<line x1="461.38" y1="304.3" x2="465.18" y2="304.3" stroke="#444" stroke-width="1.3"/>
<rect x="459.49" y="311.5" width="7.58" height="57" fill="#f77b79" stroke="#5a1616" stroke-width="1.1"/>
<line x1="470.85" y1="317" x2="470.85" y2="312.5" stroke="#444" stroke-width="1.15"/>
<line x1="468.95" y1="312.5" x2="472.75" y2="312.5" stroke="#444" stroke-width="1.3"/>
<rect x="467.07" y="317" width="7.58" height="51.5" fill="#fa6418" stroke="#5a1a04" stroke-width="1.1"/>
<line x1="485.91" y1="254.4" x2="485.91" y2="248.7" stroke="#444" stroke-width="1.15"/>
<line x1="484.01" y1="248.7" x2="487.81" y2="248.7" stroke="#444" stroke-width="1.3"/>
<rect x="482.12" y="254.4" width="7.58" height="114.1" fill="#ffffff" stroke="#383838" stroke-width="1.1"/>
<line x1="493.48" y1="260.5" x2="493.48" y2="253.8" stroke="#444" stroke-width="1.15"/>
<line x1="491.58" y1="253.8" x2="495.38" y2="253.8" stroke="#444" stroke-width="1.3"/>
<rect x="489.69" y="260.5" width="7.58" height="108" fill="#f7c49b" stroke="#4a2a12" stroke-width="1.1"/>
<line x1="501.06" y1="266.6" x2="501.06" y2="259.3" stroke="#444" stroke-width="1.15"/>
<line x1="499.16" y1="259.3" x2="502.96" y2="259.3" stroke="#444" stroke-width="1.3"/>
<rect x="497.27" y="266.6" width="7.58" height="101.9" fill="#f77b79" stroke="#5a1616" stroke-width="1.1"/>
<line x1="508.63" y1="262.4" x2="508.63" y2="250.6" stroke="#444" stroke-width="1.15"/>
<line x1="506.73" y1="250.6" x2="510.53" y2="250.6" stroke="#444" stroke-width="1.3"/>
<rect x="504.85" y="262.4" width="7.58" height="106.1" fill="#fa6418" stroke="#5a1a04" stroke-width="1.1"/>
<line x1="326.5" y1="368.5" x2="518.1" y2="368.5" stroke="#000" stroke-width="1.8"/>
<line x1="346.15" y1="368.5" x2="346.15" y2="373" stroke="#000" stroke-width="1.5"/>
<text transform="translate(348.95,382.5) rotate(-45)" text-anchor="end" font-weight="bold" font-size="12.8" stroke="#000" stroke-width="0.3" textLength="67.8" lengthAdjust="spacingAndGlyphs">No Agonist</text>
<line x1="383.93" y1="368.5" x2="383.93" y2="373" stroke="#000" stroke-width="1.5"/>
<text transform="translate(386.73,382.5) rotate(-45)" text-anchor="end" font-weight="bold" font-size="12.8" stroke="#000" stroke-width="0.3" textLength="67.5" lengthAdjust="spacingAndGlyphs">ADP 0.5 μM</text>
<line x1="421.71" y1="368.5" x2="421.71" y2="373" stroke="#000" stroke-width="1.5"/>
<text transform="translate(424.51,382.5) rotate(-45)" text-anchor="end" font-weight="bold" font-size="12.8" stroke="#000" stroke-width="0.3" textLength="64.5" lengthAdjust="spacingAndGlyphs">ADP 20 μM</text>
<line x1="459.49" y1="368.5" x2="459.49" y2="373" stroke="#000" stroke-width="1.5"/>
<text transform="translate(462.29,382.5) rotate(-45)" text-anchor="end" font-weight="bold" font-size="12.8" stroke="#000" stroke-width="0.3" textLength="76.2" lengthAdjust="spacingAndGlyphs">TRAP 1.5 μM</text>
<line x1="497.27" y1="368.5" x2="497.27" y2="373" stroke="#000" stroke-width="1.5"/>
<text transform="translate(500.07,382.5) rotate(-45)" text-anchor="end" font-weight="bold" font-size="12.8" stroke="#000" stroke-width="0.3" textLength="72.9" lengthAdjust="spacingAndGlyphs">TRAP 20 μM</text>
<line x1="322.9" y1="250.5" x2="327.5" y2="250.5" stroke="#000" stroke-width="1.5"/>
<text x="321.6" y="254.2" text-anchor="end" font-weight="bold" font-size="9.4" stroke="#000" stroke-width="0.3">500</text>
<line x1="322.9" y1="273.4" x2="327.5" y2="273.4" stroke="#000" stroke-width="1.5"/>
<text x="321.6" y="277.1" text-anchor="end" font-weight="bold" font-size="9.4" stroke="#000" stroke-width="0.3">350</text>
<line x1="322.9" y1="296.8" x2="327.5" y2="296.8" stroke="#000" stroke-width="1.5"/>
<text x="321.6" y="300.5" text-anchor="end" font-weight="bold" font-size="9.4" stroke="#000" stroke-width="0.3">200</text>
<line x1="322.9" y1="319.2" x2="327.5" y2="319.2" stroke="#000" stroke-width="1.5"/>
<text x="321.6" y="322.9" text-anchor="end" font-weight="bold" font-size="9.4" stroke="#000" stroke-width="0.3">50</text>
<line x1="322.9" y1="334.4" x2="327.5" y2="334.4" stroke="#000" stroke-width="1.5"/>
<text x="321.6" y="338.1" text-anchor="end" font-weight="bold" font-size="9.4" stroke="#000" stroke-width="0.3">20</text>
<line x1="322.9" y1="351.6" x2="327.5" y2="351.6" stroke="#000" stroke-width="1.5"/>
<text x="321.6" y="355.3" text-anchor="end" font-weight="bold" font-size="9.4" stroke="#000" stroke-width="0.3">10</text>
<line x1="322.9" y1="368.5" x2="327.5" y2="368.5" stroke="#000" stroke-width="1.5"/>
<text x="321.6" y="372.2" text-anchor="end" font-weight="bold" font-size="9.4" stroke="#000" stroke-width="0.3">0</text>
<path d="M329.6,243.5 L329.6,240.5 L361.9,240.5 L361.9,243.5" fill="none" stroke="#444" stroke-width="1"/>
<text x="333.05" y="237.8" font-size="10.0" stroke="#000" stroke-width="0.3" textLength="28" lengthAdjust="spacingAndGlyphs">0.0008</text>
<path d="M365.8,243.5 L365.8,240.5 L399,240.5 L399,243.5" fill="none" stroke="#444" stroke-width="1"/>
<text x="369.7" y="237.8" font-size="10.0" stroke="#000" stroke-width="0.3" textLength="28" lengthAdjust="spacingAndGlyphs">0.9248</text>
<path d="M403.5,243.5 L403.5,240.5 L436.5,240.5 L436.5,243.5" fill="none" stroke="#444" stroke-width="1"/>
<text x="407.3" y="237.8" font-size="10.0" stroke="#000" stroke-width="0.3" textLength="28" lengthAdjust="spacingAndGlyphs">0.4728</text>
<path d="M441.8,243.5 L441.8,240.5 L474.5,240.5 L474.5,243.5" fill="none" stroke="#444" stroke-width="1"/>
<text x="445.45" y="237.8" font-size="10.0" stroke="#000" stroke-width="0.3" textLength="28" lengthAdjust="spacingAndGlyphs">0.0858</text>
<path d="M479.1,243.5 L479.1,240.5 L511.7,240.5 L511.7,243.5" fill="none" stroke="#444" stroke-width="1"/>
<text x="482.7" y="237.8" font-size="10.0" stroke="#000" stroke-width="0.3" textLength="28" lengthAdjust="spacingAndGlyphs">0.3104</text>
<text x="270.3" y="224.3" font-weight="bold" font-size="16.5" stroke="#000" stroke-width="0.25">D</text>
<text transform="translate(284.2,305.4) rotate(-90)" text-anchor="middle" font-size="13.5" stroke="#000" stroke-width="0.3" textLength="62.5" lengthAdjust="spacingAndGlyphs">P-Selectin</text>
<text transform="translate(300.5,305.4) rotate(-90)" text-anchor="middle" font-size="13.5" stroke="#000" stroke-width="0.3" textLength="125" lengthAdjust="spacingAndGlyphs">(mean fluorescence)</text>
<rect x="329.0" y="323.9" width="190" height="10.6" fill="#fff"/>
<line x1="327.5" y1="243.5" x2="327.5" y2="323.5" stroke="#000" stroke-width="1.8"/>
<line x1="325.0" y1="323.5" x2="329.7" y2="323.5" stroke="#000" stroke-width="1.5"/>
<line x1="327.5" y1="334.3" x2="327.5" y2="369.4" stroke="#000" stroke-width="1.8"/>
<line x1="323.5" y1="334.3" x2="330.0" y2="334.3" stroke="#000" stroke-width="1.5"/>
<text x="312" y="487" font-size="12.4" stroke="#000" stroke-width="0.3">Bleeding Score</text>
<rect x="312.3" y="493.7" width="17.7" height="10.2" fill="#ffffff" stroke="#383838" stroke-width="1.3"/>
<text x="337.5" y="503.4" font-size="12.2" stroke="#000" stroke-width="0.3">0</text>
<rect x="312.3" y="511.42" width="17.7" height="10.2" fill="#f7c49b" stroke="#4a2a12" stroke-width="1.3"/>
<text x="337.5" y="521.12" font-size="12.2" stroke="#000" stroke-width="0.3">1</text>
<rect x="312.3" y="529.14" width="17.7" height="10.2" fill="#f77b79" stroke="#5a1616" stroke-width="1.3"/>
<text x="337.5" y="538.84" font-size="12.2" stroke="#000" stroke-width="0.3">2</text>
<rect x="312.3" y="546.86" width="17.7" height="10.2" fill="#fa6418" stroke="#5a1a04" stroke-width="1.3"/>
<text x="337.5" y="556.56" font-size="12.2" stroke="#000" stroke-width="0.3">3 or 4</text>
</svg>
</body></html>
